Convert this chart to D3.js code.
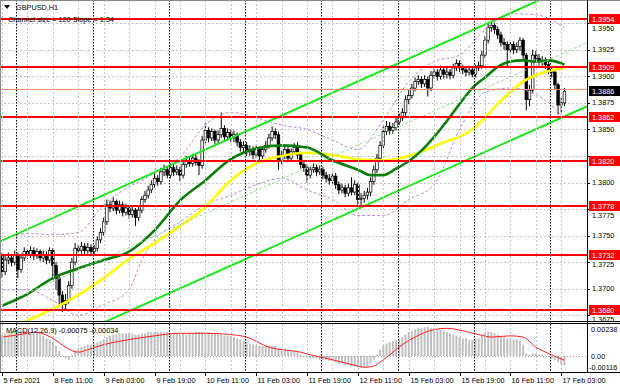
<!DOCTYPE html>
<html>
<head>
<meta charset="utf-8">
<script src="https://d3js.org/d3.v7.min.js"></script>
<style>
  body { margin: 0; background: #fff; }
  text { font-family: "Liberation Sans", Arial, sans-serif; font-size: 7.3px; }
</style>
</head>
<body>
<div id="container"></div>
<script>
// ---- data ----
var firstOpen = 1.3731;
var closes = [
  1.3716,1.3727,1.3729,1.3725,1.3732,1.3718,1.3729,1.3735,1.3732,1.3736,
  1.3731,1.3735,1.3729,1.3732,1.3727,1.3736,1.3722,1.3710,1.3694,1.3685,
  1.3689,1.3703,1.3725,1.3738,1.3736,1.3740,1.3736,1.3739,1.3735,1.3738,
  1.3746,1.3753,1.3763,1.3779,1.3776,1.3782,1.3774,1.3779,1.3772,1.3776,
  1.3770,1.3774,1.3767,1.3774,1.3784,1.3788,1.3793,1.3798,1.3804,1.3801,
  1.3810,1.3812,1.3807,1.3814,1.3810,1.3812,1.3807,1.3817,1.3821,1.3818,
  1.3823,1.3819,1.3816,1.3840,1.3849,1.3842,1.3848,1.3840,1.3845,1.3851,
  1.3843,1.3847,1.3842,1.3845,1.3838,1.3833,1.3835,1.3829,1.3831,1.3826,
  1.3831,1.3825,1.3831,1.3835,1.3842,1.3848,1.3845,1.3821,1.3826,1.3831,
  1.3823,1.3829,1.3833,1.3826,1.3817,1.3814,1.3807,1.3812,1.3814,1.3810,
  1.3812,1.3807,1.3804,1.3802,1.3806,1.3798,1.3793,1.3795,1.3790,1.3795,
  1.3791,1.3798,1.3784,1.3785,1.3788,1.3791,1.3801,1.3812,1.3823,1.3835,
  1.3848,1.3853,1.3849,1.3852,1.3857,1.3861,1.3866,1.3878,1.3882,1.3889,
  1.3895,1.3897,1.3893,1.3897,1.3889,1.3901,1.3904,1.3900,1.3906,1.3902,
  1.3904,1.3901,1.3908,1.3912,1.3908,1.3906,1.3904,1.3906,1.3902,1.3908,
  1.3910,1.3920,1.3934,1.3946,1.3948,1.3944,1.3939,1.3932,1.3930,1.3925,
  1.3930,1.3925,1.3928,1.3934,1.3920,1.3878,1.3887,1.3920,1.3917,1.3914,
  1.3915,1.3911,1.3906,1.3904,1.3892,1.3873,1.3875,1.3886
];
var highs = [
  1.3734,1.3731,1.3734,1.3732,1.3736,1.3734,1.3733,1.3739,1.3738,1.3740,
  1.3739,1.3738,1.3737,1.3736,1.3735,1.3739,1.3738,1.3725,1.3713,1.3698,
  1.3695,1.3707,1.3729,1.3743,1.3742,1.3744,1.3743,1.3743,1.3742,1.3741,
  1.3749,1.3757,1.3767,1.3784,1.3783,1.3786,1.3784,1.3783,1.3782,1.3780,
  1.3779,1.3778,1.3776,1.3777,1.3787,1.3792,1.3797,1.3802,1.3809,1.3807,
  1.3814,1.3817,1.3815,1.3818,1.3817,1.3816,1.3815,1.3820,1.3825,1.3824,
  1.3827,1.3826,1.3822,1.3844,1.3856,1.3852,1.3851,1.3850,1.3849,1.3866,
  1.3854,1.3851,1.3850,1.3849,1.3847,1.3841,1.3839,1.3838,1.3835,1.3834,
  1.3835,1.3834,1.3834,1.3839,1.3846,1.3853,1.3851,1.3848,1.3830,1.3835,
  1.3834,1.3832,1.3837,1.3838,1.3829,1.3821,1.3817,1.3815,1.3818,1.3817,
  1.3816,1.3815,1.3810,1.3808,1.3810,1.3809,1.3801,1.3799,1.3798,1.3799,
  1.3805,1.3802,1.3800,1.3790,1.3792,1.3795,1.3805,1.3816,1.3827,1.3839,
  1.3853,1.3858,1.3857,1.3856,1.3861,1.3865,1.3870,1.3882,1.3887,1.3893,
  1.3899,1.3901,1.3900,1.3901,1.3900,1.3905,1.3908,1.3907,1.3910,1.3909,
  1.3908,1.3907,1.3912,1.3916,1.3915,1.3911,1.3909,1.3910,1.3909,1.3911,
  1.3914,1.3924,1.3938,1.3950,1.3951,1.3950,1.3947,1.3942,1.3936,1.3933,
  1.3934,1.3933,1.3932,1.3937,1.3936,1.3922,1.3892,1.3925,1.3924,1.3921,
  1.3919,1.3918,1.3914,1.3909,1.3906,1.3894,1.3880,1.3889
];
var lows = [
  1.3710,1.3713,1.3723,1.3721,1.3722,1.3710,1.3715,1.3726,1.3728,1.3729,
  1.3727,1.3728,1.3726,1.3725,1.3723,1.3724,1.3708,1.3699,1.3685,1.3678,
  1.3680,1.3686,1.3700,1.3722,1.3731,1.3733,1.3732,1.3733,1.3731,1.3732,
  1.3735,1.3743,1.3750,1.3760,1.3772,1.3773,1.3770,1.3771,1.3768,1.3769,
  1.3766,1.3767,1.3759,1.3764,1.3771,1.3781,1.3785,1.3790,1.3795,1.3797,
  1.3798,1.3806,1.3804,1.3804,1.3806,1.3807,1.3801,1.3804,1.3814,1.3815,
  1.3815,1.3816,1.3807,1.3813,1.3837,1.3838,1.3839,1.3836,1.3837,1.3842,
  1.3839,1.3840,1.3838,1.3838,1.3834,1.3829,1.3829,1.3825,1.3825,1.3822,
  1.3823,1.3821,1.3822,1.3828,1.3832,1.3839,1.3841,1.3812,1.3817,1.3822,
  1.3819,1.3820,1.3826,1.3822,1.3813,1.3810,1.3800,1.3804,1.3809,1.3806,
  1.3807,1.3803,1.3800,1.3798,1.3799,1.3794,1.3789,1.3790,1.3786,1.3787,
  1.3788,1.3788,1.3777,1.3779,1.3781,1.3784,1.3787,1.3798,1.3809,1.3820,
  1.3832,1.3845,1.3845,1.3846,1.3849,1.3854,1.3858,1.3863,1.3874,1.3879,
  1.3886,1.3892,1.3889,1.3890,1.3881,1.3886,1.3898,1.3896,1.3897,1.3898,
  1.3898,1.3897,1.3898,1.3905,1.3904,1.3902,1.3900,1.3901,1.3899,1.3899,
  1.3905,1.3907,1.3917,1.3931,1.3942,1.3940,1.3935,1.3928,1.3925,1.3909,
  1.3921,1.3921,1.3922,1.3924,1.3916,1.3868,1.3872,1.3884,1.3913,1.3910,
  1.3910,1.3907,1.3902,1.3899,1.3888,1.3864,1.3866,1.3872
];

// moving averages (dark green / yellow), read at a few bars
var greenBars = [0,8,16,24,32,40,48,56,64,72,80,88,96,104,112,116,120,124,128,132,136,140,144,148,152,156,160,164,168,172,177];
var greenMA = [1.3684,1.3695,1.3710,1.3719,1.3727,1.3735,1.3755,1.3783,1.3802,1.3822,1.3832,1.3835,1.3833,1.3821,1.3812,1.3807,1.3807,1.3813,1.3820,1.3830,1.3843,1.3858,1.3874,1.3889,1.3899,1.3909,1.3914,1.3915,1.3914,1.3915,1.3911];
var yellowBars = [0,8,16,24,32,40,48,56,64,72,80,88,96,104,112,120,128,132,136,140,144,148,152,156,160,164,168,172,177];
var yellowMA = [1.3659,1.3670,1.3681,1.3694,1.3710,1.3728,1.3743,1.3759,1.3777,1.3802,1.3818,1.3825,1.3828,1.3826,1.3822,1.3821,1.3825,1.3829,1.3834,1.3839,1.3843,1.3850,1.3861,1.3874,1.3885,1.3895,1.3901,1.3905,1.3908];

// lilac dashed bands
var bandBars = [0,8,16,24,32,40,44,48,56,64,72,80,88,96,104,112,120,128,136,144,152,160,168,177];
var bandUpper = [1.3746,1.3752,1.3751,1.3753,1.3779,1.3796,1.3802,1.3809,1.3824,1.3854,1.3866,1.3861,1.3854,1.3850,1.3840,1.3831,1.3859,1.3895,1.3914,1.3920,1.3944,1.3959,1.3958,1.3946];
var bandLower = [1.3699,1.3699,1.3689,1.3675,1.3685,1.3699,1.3727,1.3746,1.3763,1.3779,1.3788,1.3798,1.3804,1.3793,1.3784,1.3769,1.3769,1.3784,1.3798,1.3850,1.3885,1.3889,1.3883,1.3861];

// regression channel (size 120, slope 1.34)
var channelBars = [-1, 185];
var channelUpper = [1.3744, 1.3993];
var channelMid = [1.3684, 1.3933];
var channelLower = [1.3624, 1.3873];

// horizontal levels and price axis
var levels = [1.3954, 1.3909, 1.3862, 1.3820, 1.3778, 1.3732, 1.3680];
var bid = 1.3886;
var priceTicks = [1.3950, 1.3925, 1.3900, 1.3875, 1.3850, 1.3825, 1.3800, 1.3775, 1.3750, 1.3725, 1.3700, 1.3675];

// time axis
var timeBars = [0,16,32,48,64,80,96,112,128,144,160,176];
var timeLabels = ["5 Feb 2021","8 Feb 11:00","9 Feb 03:00","9 Feb 19:00","10 Feb 11:00","11 Feb 03:00",
                  "11 Feb 19:00","12 Feb 11:00","15 Feb 03:00","15 Feb 19:00","16 Feb 11:00","17 Feb 03:00"];
var daySeparators = [5,29,53,77,101,125,149,173];

// MACD(12,26,9)
var macdHist = [
  0.0017,0.0018,0.0018,0.0019,0.0019,0.0019,0.0020,0.0020,0.0019,0.0019,
  0.0018,0.0018,0.0017,0.0016,0.0014,0.0013,0.0011,0.0008,0.0004,0.0000,
  -0.0002,-0.0003,0.0001,0.0004,0.0006,0.0007,0.0008,0.0009,0.0009,0.0010,
  0.0011,0.0012,0.0013,0.0015,0.0016,0.0017,0.0017,0.0018,0.0018,0.0018,
  0.0018,0.0018,0.0017,0.0017,0.0018,0.0018,0.0019,0.0019,0.0019,0.0019,
  0.0019,0.0019,0.0019,0.0018,0.0018,0.0018,0.0018,0.0018,0.0017,0.0018,
  0.0018,0.0019,0.0019,0.0019,0.0019,0.0019,0.0018,0.0018,0.0017,0.0017,
  0.0016,0.0016,0.0016,0.0015,0.0014,0.0013,0.0012,0.0011,0.0010,0.0009,
  0.0008,0.0008,0.0008,0.0008,0.0008,0.0008,0.0008,0.0006,0.0005,0.0005,
  0.0004,0.0004,0.0004,0.0003,0.0001,0.0000,-0.0001,-0.0002,-0.0002,-0.0002,
  -0.0003,-0.0003,-0.0003,-0.0004,-0.0004,-0.0005,-0.0006,-0.0006,-0.0007,-0.0007,
  -0.0008,-0.0008,-0.0009,-0.0009,-0.0009,-0.0008,-0.0006,-0.0003,0.0001,0.0005,
  0.0008,0.0010,0.0011,0.0012,0.0013,0.0014,0.0015,0.0017,0.0019,0.0020,
  0.0021,0.0022,0.0022,0.0023,0.0023,0.0022,0.0022,0.0021,0.0021,0.0020,
  0.0019,0.0018,0.0017,0.0016,0.0015,0.0014,0.0014,0.0013,0.0013,0.0014,
  0.0014,0.0016,0.0018,0.0019,0.0019,0.0018,0.0017,0.0016,0.0015,0.0014,
  0.0014,0.0013,0.0013,0.0012,0.0009,0.0002,0.0001,0.0002,0.0002,0.0001,
  0.0001,0.0000,-0.0001,-0.0002,-0.0003,-0.0005,-0.0007,-0.00075
];
var signalBars = [0,8,10,16,20,24,27,32,40,48,56,64,72,77,84,94,97,104,112,114,117,120,123,126,130,136,140,145,150,154,160,164,168,172,177];
var signalLine = [0.0015,0.0018,0.0019,0.0014,0.0007,0.0003,0.0005,0.0009,0.0013,0.0016,0.0018,0.0018,0.0017,0.0015,0.0007,0.0003,0.0001,-0.0003,-0.0008,-0.0009,-0.0008,-0.0003,0.0003,0.0009,0.0015,0.0021,0.0022,0.0020,0.0017,0.0015,0.0016,0.0015,0.0007,0.0002,-0.00034];
var macdScale = [-0.00116, 0.00238];

// ---- layout ----
var W = 620, H = 388;
var plotRight = 587, mainBottom = 321, macdTop = 323, macdBottom = 372;

var svg = d3.select("#container").append("svg")
  .attr("width", W).attr("height", H)
  .style("display", "block");

var x = d3.scaleLinear().domain([-0.63, 184.1]).range([0, plotRight]);
var y = d3.scaleLinear().domain([1.36696, 1.39719]).range([mainBottom, 0]);
var ym = d3.scaleLinear().domain(macdScale).range([370.6, 326]);

svg.append("rect").attr("width", W).attr("height", H).attr("fill", "#fff");

var defs = svg.append("defs");
defs.append("clipPath").attr("id", "clipMain")
  .append("rect").attr("x", 0).attr("y", 0).attr("width", plotRight).attr("height", mainBottom);
defs.append("clipPath").attr("id", "clipMacd")
  .append("rect").attr("x", 0).attr("y", macdTop).attr("width", plotRight).attr("height", macdBottom - macdTop);

var main = svg.append("g").attr("clip-path", "url(#clipMain)");
var macdG = svg.append("g").attr("clip-path", "url(#clipMacd)");

// grid
var gridBars = d3.range(0, 185, 8);
svg.append("g").selectAll("line").data(gridBars).enter().append("line")
  .attr("x1", d => Math.round(x(d)) + 0.5).attr("x2", d => Math.round(x(d)) + 0.5)
  .attr("y1", 0).attr("y2", macdBottom)
  .attr("stroke", "#c4c4c4").attr("stroke-dasharray", "2,2");
main.append("g").selectAll("line").data(priceTicks).enter().append("line")
  .attr("x1", 0).attr("x2", plotRight)
  .attr("y1", d => Math.round(y(d)) + 0.5).attr("y2", d => Math.round(y(d)) + 0.5)
  .attr("stroke", "#c4c4c4").attr("stroke-dasharray", "2,2");

// day separators
svg.append("g").selectAll("line").data(daySeparators).enter().append("line")
  .attr("x1", d => Math.round(x(d - 0.5)) + 0.5).attr("x2", d => Math.round(x(d - 0.5)) + 0.5)
  .attr("y1", 0).attr("y2", macdBottom)
  .attr("stroke", "#000").attr("stroke-dasharray", "1.5,1.5");

// candles
var candles = closes.map(function(c, i) {
  return { i: i, o: i === 0 ? firstOpen : closes[i - 1], c: c, h: highs[i], l: lows[i] };
});
var cg = main.append("g");
cg.selectAll("line").data(candles).enter().append("line")
  .attr("x1", d => x(d.i)).attr("x2", d => x(d.i))
  .attr("y1", d => y(d.h)).attr("y2", d => y(d.l))
  .attr("stroke", "#000").attr("stroke-width", 1);
cg.selectAll("rect").data(candles).enter().append("rect")
  .attr("x", d => x(d.i) - 1.3).attr("width", 2.6)
  .attr("y", d => y(Math.max(d.o, d.c)))
  .attr("height", d => Math.max(0.8, Math.abs(y(d.o) - y(d.c))))
  .attr("fill", d => d.c >= d.o ? "#fff" : "#000")
  .attr("stroke", "#000").attr("stroke-width", 0.7);

// bands
var curve = d3.line().curve(d3.curveMonotoneX);
function series(bars, vals, sc) { return bars.map((b, k) => [x(b), sc(vals[k])]); }
[bandUpper, bandLower].forEach(function(v) {
  main.append("path").attr("d", curve(series(bandBars, v, y)))
    .attr("fill", "none").attr("stroke", "#b98ce0").attr("stroke-width", 1)
    .attr("stroke-dasharray", "3,2");
});

// moving averages
main.append("path").attr("d", curve(series(yellowBars, yellowMA, y)))
  .attr("fill", "none").attr("stroke", "#ffff00").attr("stroke-width", 2.6);
main.append("path").attr("d", curve(series(greenBars, greenMA, y)))
  .attr("fill", "none").attr("stroke", "#0a7d0a").attr("stroke-width", 2.6);

// channel
var straight = d3.line();
main.append("path").attr("d", straight(series(channelBars, channelMid, y)))
  .attr("fill", "none").attr("stroke", "#8fe08f").attr("stroke-width", 1).attr("stroke-dasharray", "3,2");
[channelUpper, channelLower].forEach(function(v) {
  main.append("path").attr("d", straight(series(channelBars, v, y)))
    .attr("fill", "none").attr("stroke", "#1ee61e").attr("stroke-width", 2);
});

// levels
main.append("g").selectAll("line").data(levels).enter().append("line")
  .attr("x1", 0).attr("x2", plotRight)
  .attr("y1", d => Math.round(y(d))).attr("y2", d => Math.round(y(d)))
  .attr("stroke", "#ff0000").attr("stroke-width", 2);
main.append("line").attr("x1", 0).attr("x2", plotRight)
  .attr("y1", Math.round(y(bid)) - 1.5).attr("y2", Math.round(y(bid)) - 1.5)
  .attr("stroke", "#f08a6a").attr("stroke-width", 1);

// MACD
macdG.append("g").selectAll("rect").data(macdHist).enter().append("rect")
  .attr("x", (d, i) => x(i) - 1).attr("width", 2)
  .attr("y", d => Math.min(ym(0), ym(d)))
  .attr("height", d => Math.max(0.5, Math.abs(ym(d) - ym(0))))
  .attr("fill", "#c0c0c0");
macdG.append("line").attr("x1", 0).attr("x2", plotRight)
  .attr("y1", Math.round(ym(0)) + 0.5).attr("y2", Math.round(ym(0)) + 0.5)
  .attr("stroke", "#a0a0a0").attr("stroke-dasharray", "1,2");
macdG.append("path").attr("d", curve(series(signalBars, signalLine, ym)))
  .attr("fill", "none").attr("stroke", "#ff2020").attr("stroke-width", 1);

// frames
svg.append("line").attr("x1", 0).attr("x2", W).attr("y1", 0.5).attr("y2", 0.5).attr("stroke", "#888");
svg.append("line").attr("x1", 0.5).attr("x2", 0.5).attr("y1", 0).attr("y2", macdBottom).attr("stroke", "#888");
svg.append("line").attr("x1", 0).attr("x2", W).attr("y1", mainBottom + 0.5).attr("y2", mainBottom + 0.5).attr("stroke", "#000");
svg.append("line").attr("x1", 0).attr("x2", W).attr("y1", macdTop + 0.5).attr("y2", macdTop + 0.5).attr("stroke", "#000");
svg.append("line").attr("x1", 0).attr("x2", W).attr("y1", macdBottom + 0.5).attr("y2", macdBottom + 0.5).attr("stroke", "#000");
svg.append("line").attr("x1", plotRight + 0.5).attr("x2", plotRight + 0.5).attr("y1", 0).attr("y2", macdBottom).attr("stroke", "#000");

// price axis: tick labels hidden behind a level box are pushed just below it
var boxes = levels.concat([bid]).map(p => Math.round(y(p)));
var axisG = svg.append("g");
priceTicks.forEach(function(p) {
  var ty = y(p);
  axisG.append("line").attr("x1", plotRight).attr("x2", plotRight + 3)
    .attr("y1", Math.round(ty) + 0.5).attr("y2", Math.round(ty) + 0.5).attr("stroke", "#000");
  var hit = boxes.find(b => Math.abs(b - ty) < 8.5);
  if (hit !== undefined) {
    if (ty < hit || hit + 9.5 > mainBottom) return; // fully covered in the reference
    ty = hit + 9.5;
  }
  axisG.append("text").attr("x", 592).attr("y", ty).attr("dy", "0.35em")
    .text(d3.format(".4f")(p));
});
levels.forEach(function(p) {
  axisG.append("rect").attr("x", 589).attr("y", Math.round(y(p)) - 5).attr("width", 31).attr("height", 10).attr("fill", "#ff0000");
  axisG.append("text").attr("x", 592).attr("y", Math.round(y(p))).attr("dy", "0.35em").attr("fill", "#fff")
    .text(d3.format(".4f")(p));
});
axisG.append("rect").attr("x", 589).attr("y", Math.round(y(bid)) - 5).attr("width", 31).attr("height", 10).attr("fill", "#000");
axisG.append("text").attr("x", 592).attr("y", Math.round(y(bid))).attr("dy", "0.35em").attr("fill", "#fff")
  .text(d3.format(".4f")(bid));

// MACD axis
axisG.append("text").attr("x", 591).attr("y", ym(macdScale[1]) + 3).attr("dy", "0.35em").text(d3.format(".5f")(macdScale[1]));
axisG.append("text").attr("x", 591).attr("y", ym(0)).attr("dy", "0.35em").text("0.00");
axisG.append("text").attr("x", 589).attr("y", ym(macdScale[0]) - 3.5).attr("dy", "0.35em").text(d3.format(".5f")(macdScale[0]).replace("−", "-"));

// time axis
timeBars.forEach(function(b, k) {
  var xp = Math.round(x(b)) + 0.5;
  svg.append("line").attr("x1", xp).attr("x2", xp).attr("y1", macdBottom).attr("y2", macdBottom + 4).attr("stroke", "#000");
  svg.append("text").attr("x", xp + 1).attr("y", 383).text(timeLabels[k]);
});

// titles
svg.append("path").attr("d", "M4,5 L10,5 L7,9 Z").attr("fill", "#000");
svg.append("text").attr("x", 16).attr("y", 9.5).text("GBPUSD,H1");
svg.append("text").attr("x", 8).attr("y", 21.5).text("Channel size = 120 Slope = 1.34");
svg.append("text").attr("x", 6).attr("y", 333)
  .text("MACD(12,26,9) " + macdHist[macdHist.length - 1].toFixed(5) + " " + signalLine[signalLine.length - 1].toFixed(5));
</script>
</body>
</html>
